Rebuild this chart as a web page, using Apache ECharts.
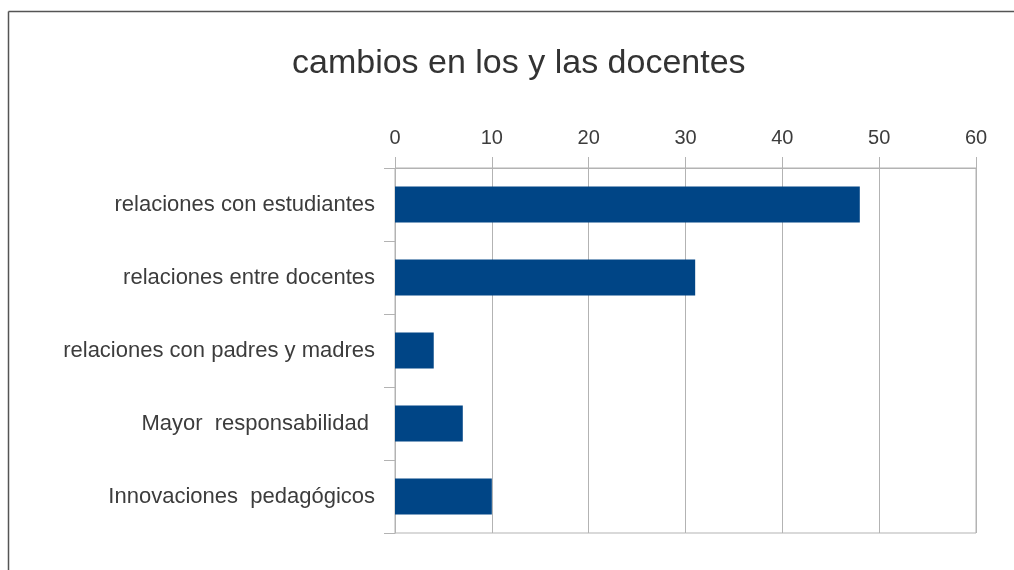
<!DOCTYPE html>
<html><head><meta charset="utf-8">
<script src="https://cdn.jsdelivr.net/npm/echarts@6/dist/echarts.min.js"></script>
<style>html,body{margin:0;padding:0;background:#fff}#c{width:1014px;height:570px}</style>
</head><body><div id="c"></div>
<script>
const categories = ["relaciones con estudiantes", "relaciones entre docentes", "relaciones con padres y madres", "Mayor  responsabilidad ", "Innovaciones  pedagógicos"];
const values = [48, 31, 4, 7, 10];
const titleText = "cambios en los y las docentes";

const chart = echarts.init(document.getElementById('c'), null, {renderer: 'canvas'});
const font = "'Liberation Sans', Arial, sans-serif";
chart.setOption({
  animation: false,
  backgroundColor: '#fff',
  title: {text: titleText, left: 287, top: 42, textStyle: {fontFamily: font, fontSize: 34, fontWeight: 'normal', color: '#333'}},
  graphic: [
    {type: 'line', shape: {x1: 8.5, y1: 11.5, x2: 1014, y2: 11.5}, style: {stroke: '#555', lineWidth: 1.5}},
    {type: 'line', shape: {x1: 8.5, y1: 11.5, x2: 8.5, y2: 570}, style: {stroke: '#555', lineWidth: 1.5}}
  ],
  grid: {left: 395, top: 168, right: 38, bottom: 37, show: true, borderColor: '#b3b3b3', borderWidth: 1, containLabel: false},
  xAxis: {
    type: 'value', position: 'top', min: 0, max: 60, interval: 10,
    axisLine: {show: true, lineStyle: {color: '#b3b3b3'}},
    axisTick: {show: true, length: 11, lineStyle: {color: '#b3b3b3'}},
    axisLabel: {margin: 20, fontFamily: font, fontSize: 20, color: '#3c3c3c'},
    splitLine: {show: true, lineStyle: {color: '#b3b3b3'}}
  },
  yAxis: {
    type: 'category', data: categories, inverse: true,
    axisLine: {show: true, lineStyle: {color: '#b3b3b3'}},
    axisTick: {show: true, length: 11, lineStyle: {color: '#b3b3b3'}},
    axisLabel: {margin: 20, fontFamily: font, fontSize: 22, color: '#3c3c3c', padding: [6, 0, 0, 0]},
    splitLine: {show: false}
  },
  series: [{type: 'bar', data: values, barWidth: 36, itemStyle: {color: '#004586'}}]
});
</script></body></html>
